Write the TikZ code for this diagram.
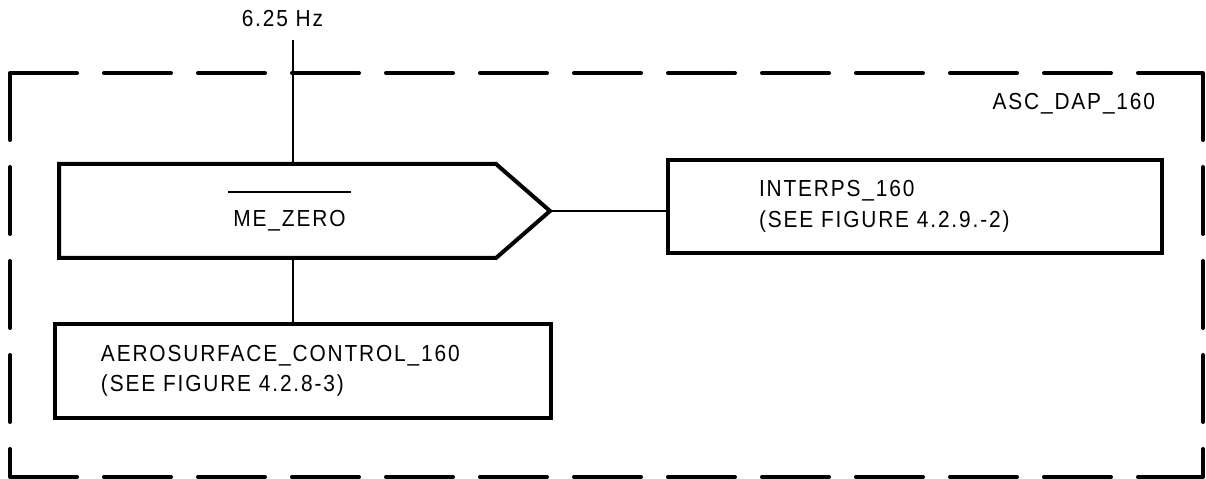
\documentclass[tikz,border=0pt]{standalone}
\usepackage{fontspec}
\setmainfont{Liberation Sans}[FakeStretch=0.9, LetterSpace=8]
\usepackage{tikz}
\pgfdeclarelayer{nodelayer}
\pgfdeclarelayer{edgelayer}
\pgfsetlayers{nodelayer, edgelayer, main}

\begin{document}
\begin{tikzpicture} [scale=1,
    box/.style={draw, line width=0.1cm, align=left, inner ysep=0pt},
    wire/.style={line width=0.065cm},
    frame/.style={line width=0.1cm, line cap=round, dash pattern=on 1.675cm off 0.675cm},
    every node/.style={font=\fontsize{16.5}{21.7}\selectfont}]
    \useasboundingbox (0,0) rectangle (30.15,11.975);
	\begin{pgfonlayer}{nodelayer}
        % frame corners
        \coordinate (f1) at (0.25,10.15);
        \coordinate (f2) at (30.075,10.15);
        \coordinate (f3) at (30.075,0.05);
        \coordinate (f4) at (0.25,0.05);
        \node[anchor=base east] (1) at (29.0,9.225) {ASC\_DAP\_160};
        \node[anchor=base] (2) at (7.06,11.3) {6.25 Hz};
        \coordinate (3) at (7.325,10.975);
        % pentagon
        \draw[line width=0.1cm] (1.475,7.875) -- (12.4,7.875) -- (13.75,6.7) -- (12.4,5.525) -- (1.475,5.525) -- cycle;
        \coordinate (4) at (7.325,7.875);
        \coordinate (5) at (7.325,5.525);
        \coordinate (6) at (13.75,6.7);
        \node[anchor=base] (7) at (7.2375,6.3) {ME\_ZERO};
        \draw[wire] (5.7,7.175) -- (8.775,7.175);
        \node[box, minimum width=12.35cm, minimum height=2.325cm, inner xsep=2.275cm, text width=7.8cm] (8) at (22.875,6.8125) {INTERPS\_160\\(SEE FIGURE 4.2.9.-2)};
        \node[box, minimum width=12.4cm, minimum height=2.35cm, inner xsep=1.15cm, text width=10.1cm] (9) at (7.575,2.7) {AEROSURFACE\_CONTROL\_160\\(SEE FIGURE 4.2.8-3)};
	\end{pgfonlayer}
	\begin{pgfonlayer}{edgelayer}
        \draw[frame] (f1) -- (f2) (f1) -- (f4) (f2) -- (f3) (f4) -- (f3);
        \draw[wire] (3) -- (4);
        \draw[wire] (6) -- (6 -| 8.west);
        \draw[wire] (5) -- (5 |- 9.north);
	\end{pgfonlayer}
    \end{tikzpicture}
\end{document}
